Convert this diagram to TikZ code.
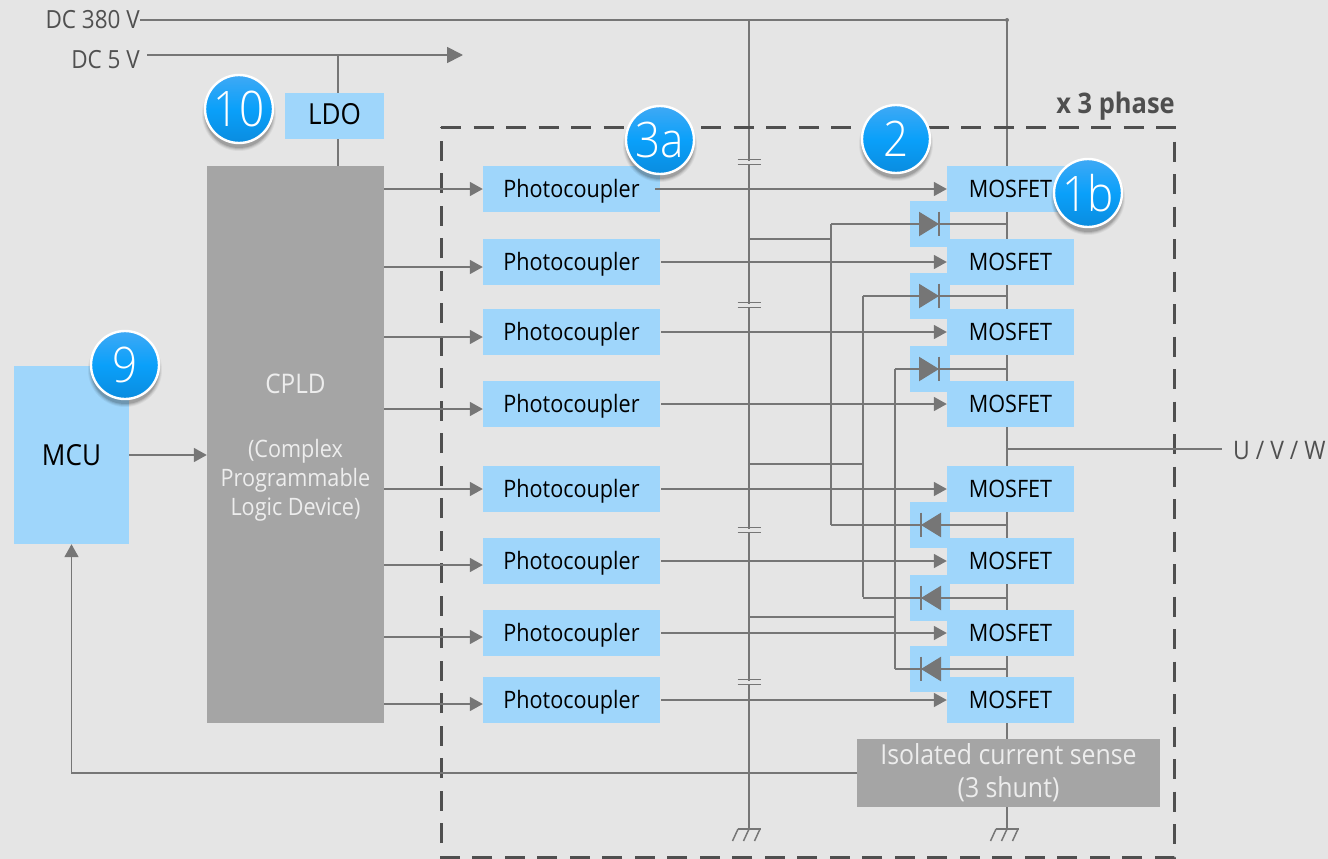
\documentclass[tikz,border=0pt]{standalone}
\usepackage{fontspec}
\setmainfont[FakeStretch=0.9]{Open Sans}
\newfontfamily\lightfont[FakeStretch=0.9]{Open Sans Light}
\usetikzlibrary{arrows.meta,calc}
\definecolor{bgc}{HTML}{E5E5E5}
\definecolor{linec}{HTML}{767676}
\definecolor{bluebox}{HTML}{9FD6FB}
\definecolor{greybox}{HTML}{A5A5A5}
\definecolor{dashc}{HTML}{4F4F4F}
\definecolor{labelc}{HTML}{505050}
\definecolor{badgetop}{HTML}{3FA9F5}
\definecolor{badgemid}{HTML}{0AA0FA}
\definecolor{badgebot}{HTML}{0A8CDF}
\newcommand{\txt}{\fontsize{24}{30}\selectfont}
\newcommand{\txtbig}{\fontsize{29}{34}\selectfont}
\newcommand{\txtlab}{\fontsize{25}{30}\selectfont}
\tikzset{
  wire/.style={draw=linec,line width=1.8pt},
  arrowwire/.style={wire,-{Triangle[length=13pt,width=14pt]}},
  box/.style={fill=bluebox,inner sep=0pt,text=black,font=\txt,text height=18pt,text depth=2pt},
  pcbox/.style={box,minimum width=177pt,minimum height=46pt},
  mosbox/.style={box,minimum width=127pt,minimum height=46pt},
  diodebox/.style={fill=bluebox,inner sep=0pt,minimum width=40pt,minimum height=46pt},
  greyblock/.style={fill=greybox,inner sep=0pt,text=white!93!black,font=\fontsize{27.6}{33}\selectfont,align=center},
  rail label/.style={text=labelc,font=\txtlab,inner sep=0pt},
  badgecircle/.style={circle,draw=white,line width=2.4pt,minimum size=68pt,inner sep=0pt,
     top color=badgetop,bottom color=badgebot,middle color=badgemid,
     text=white,font=\lightfont\fontsize{49}{52}\selectfont},
  phasebox/.style={draw=dashc,line width=3pt,dash pattern=on 20pt off 12.5pt},
}
\newcommand{\badgeat}[3]{%
  \foreach \r/\o in {37/0.05,36/0.07,35/0.09,34/0.12}
    \fill[black,opacity=\o] ($(#2)+(0,5)$) circle (\r pt);
  \node[badgecircle] (#1) at (#2) {#3};}
\begin{document}
\begin{tikzpicture}[x=1pt,y=-1pt]
\useasboundingbox (0,0) rectangle (1328,859);
\fill[bgc] (0,0) rectangle (1328,859);
% rail coordinates
\coordinate (railR) at (1007,20);
\coordinate (railL) at (749,20);
\coordinate (gndR) at (1007,829);
\coordinate (gndL) at (749,829);
\coordinate (outW) at (1222,449);
% vertical rails (behind the boxes)
\draw[wire] (railR) -- (gndR);
\draw[wire] (railL) -- (gndL);
% capacitors
\foreach \n/\y in {1/162,2/305,3/530,4/682}{
  \coordinate (cap\n) at (749,\y);
  \fill[bgc] ($(cap\n)+(-3,-1.5)$) rectangle ($(cap\n)+(3,1.5)$);
  \draw[draw=linec,line width=1.6pt] ($(cap\n)+(-11.5,-2.6)$) -- ($(cap\n)+(11.5,-2.6)$);
  \draw[draw=linec,line width=1.6pt] ($(cap\n)+(-11.5,2.6)$) -- ($(cap\n)+(11.5,2.6)$);
}
% grounds
\foreach \g in {gndL,gndR}{
  \draw[draw=linec,line width=1.5pt] ($(\g)+(-11,0)$) -- ($(\g)+(12,0)$);
  \foreach \dx in {-11,0,11}
    \draw[draw=linec,line width=1.5pt] ($(\g)+(\dx,0)$) -- ($(\g)+(\dx-5.5,12)$);
}
% phase box
\draw[phasebox] (441,127) -- (1174,127) -- (1174,857) -- (441,857) -- cycle;
% rail labels
\node[rail label,anchor=east] (dc380) at (140,20) {DC 380 V};
\node[rail label,anchor=east] (dc5) at (140,60) {DC 5 V};
\coordinate (dc5end) at (463,55);
\node[rail label,font=\fontsize{25.5}{30}\selectfont,anchor=west] (uvw) at (1233,451) {U / V / W};
\node[font=\bfseries\fontsize{28.3}{32}\selectfont,text=dashc,anchor=east,inner sep=0pt] (phase) at (1175,106) {x 3 phase};
% blocks
\node[fill=greybox,inner sep=0pt,minimum width=177pt,minimum height=557pt,text=white!93!black,font=\fontsize{24}{29}\selectfont,align=center] (cpld) at (295.5,444.5) {\rule{0pt}{26pt}{\fontsize{27}{29}\selectfont CPLD}\\[35pt](Complex\\Programmable\\Logic Device)};
\node[box,font=\txtbig,minimum width=99pt,minimum height=46pt] (ldo) at (334.5,116) {LDO};
\node[box,font=\txtbig,text height=22pt,minimum width=115pt,minimum height=178pt] (mcu) at (71.5,455) {MCU};
\node[greyblock,minimum width=303pt,minimum height=68pt] (sense) at (1008.5,773) {Isolated current sense\\(3 shunt)};
% diode boxes
\foreach \i/\y in {1/224,2/296,3/369,4/525,5/598,6/669}
  \node[diodebox] (d\i) at (930,\y) {};
% photocouplers and MOSFETs
\foreach \i/\y in {1/189,2/262,3/332,4/404,5/489,6/561,7/633,8/700}{
  \node[pcbox] (p\i) at (571.5,\y) {Photocoupler};
  \node[mosbox] (m\i) at (1010.5,\y) {MOSFET};
}
% DC rails
\draw[wire] (dc380.east) -- (railR);
\fill[linec] (railR) circle (2pt);
\draw[wire,-{Triangle[length=16pt,width=16pt]}] (147,55) -- (dc5end);
\draw[wire] (338,55) -- (ldo.north -| 338,0);
\draw[wire] (ldo.south -| 338,0) -- (cpld.north -| 338,0);
% output
\draw[wire] (1007,449) -- (outW);
% CPLD to photocouplers
\foreach \i/\y in {1/189,2/267,3/337,4/409,5/489,6/565,7/637,8/704}
  \draw[arrowwire] (cpld.east |- 0,\y) -- (p\i.west |- 0,\y);
% Photocouplers to MOSFETs
\draw[arrowwire] ($(p1.east)+(-5,0)$) -- (m1.west);
\foreach \i in {2,...,8}
  \draw[arrowwire] ($(p\i.east)+(1,0)$) -- (m\i.west);
% MCU to CPLD, sense to MCU
\draw[arrowwire] (mcu.east) -- (cpld.west |- mcu.east);
\draw[arrowwire] (sense.west) -| (mcu.south);
% diode nets
\draw[wire] (749,239) -| (831,525);
\draw[wire] (831,239) -- (831,224);
\draw[wire] (749,464) -| (863,296);
\draw[wire] (863,464) -- (863,597);
\draw[wire] (749,617) -| (895,369);
\draw[wire] (895,617) -- (895,669);
\foreach \i/\x in {1/831,2/863,3/895,4/831,5/863,6/895}
  \draw[wire] (\x,0 |- d\i.center) -- (1007,0 |- d\i.center);
% diodes
\foreach \i in {1,2,3}{
  \fill[linec,shift={(d\i.center)}] (-11,-12.3) -- (9,0) -- (-11,12.3) -- cycle;
  \draw[draw=linec,line width=1.6pt,shift={(d\i.center)}] (9,-12.3) -- (9,12.3);
}
\foreach \i in {4,5,6}{
  \fill[linec,shift={(d\i.center)}] (11,-12.3) -- (-9,0) -- (11,12.3) -- cycle;
  \draw[draw=linec,line width=1.6pt,shift={(d\i.center)}] (-9,-12.3) -- (-9,12.3);
}
% badges
\badgeat{b10}{239,109}{10}
\badgeat{b3a}{660,140}{3a}
\badgeat{b2}{896,139}{2}
\badgeat{b1b}{1088,193}{1b}
\badgeat{b9}{125,365}{9}
\end{tikzpicture}
\end{document}
